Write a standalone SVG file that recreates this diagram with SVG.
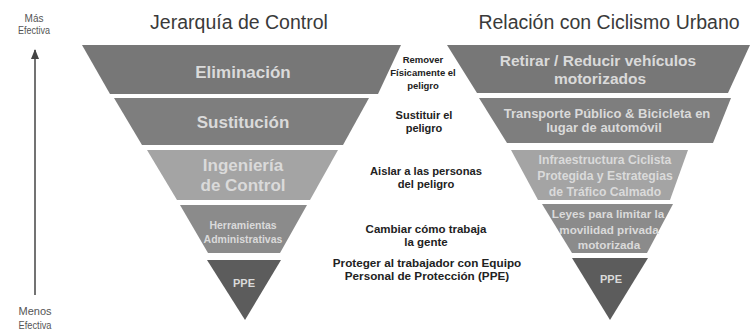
<svg xmlns="http://www.w3.org/2000/svg" width="751" height="330" viewBox="0 0 751 330">
<style>
.t{font-family:"Liberation Sans",Arial,sans-serif;fill:#3a3a3a}
.side{font-family:"Liberation Sans",Arial,sans-serif;fill:#555;text-anchor:middle}
.b{font-family:"Liberation Sans",Arial,sans-serif;font-weight:bold;fill:#dadada;text-anchor:middle}
.m{font-family:"Liberation Sans",Arial,sans-serif;font-weight:bold;fill:#222;text-anchor:middle}
.c1{fill:#777}
.c2{fill:#7e7e7e}
.c3{fill:#a4a4a4}
.c4{fill:#8b8b8b}
.c5{fill:#5c5c5c}
</style>
<defs>
<marker id="ah" markerWidth="10" markerHeight="8" refX="9" refY="4" orient="auto" markerUnits="userSpaceOnUse">
<path d="M0,0 L10,4 L0,8 Z" fill="#444"/>
</marker>
</defs>
<rect width="751" height="330" fill="#fff"/>

<text class="t" x="239" y="29" font-size="19.5" text-anchor="middle">Jerarquía de Control</text>
<text class="t" x="609" y="29" font-size="19.5" text-anchor="middle">Relación con Ciclismo Urbano</text>

<g id="axis">
<text class="side" x="34" y="22" font-size="10">Más</text>
<text class="side" x="34" y="34" font-size="10" textLength="32" lengthAdjust="spacingAndGlyphs">Efectiva</text>
<text class="side" x="35" y="315" font-size="11">Menos</text>
<text class="side" x="35" y="329" font-size="11" textLength="33" lengthAdjust="spacingAndGlyphs">Efectiva</text>
</g>

<g id="connectors">
<line x1="35" y1="295" x2="35" y2="50" stroke="#444" stroke-width="1.5" marker-end="url(#ah)"/>
</g>

<g id="left-pyramid">
<g id="l-eliminacion">
<polygon class="c1" points="82,45 401,45 378,94 110,94"/>
<text class="b" x="243" y="78" font-size="17">Eliminación</text>
</g>
<g id="l-sustitucion">
<polygon class="c2" points="114,98 369,98 343,145 142,145"/>
<text class="b" x="243" y="128" font-size="17">Sustitución</text>
</g>
<g id="l-ingenieria">
<polygon class="c3" points="147,150 338,150 310,200 177,200"/>
<text class="b" x="243" y="171" font-size="17">Ingeniería</text>
<text class="b" x="243" y="191" font-size="17">de Control</text>
</g>
<g id="l-administrativas">
<polygon class="c4" points="180,205 307,205 280,253 208,253"/>
<text class="b" x="243" y="229" font-size="10.5">Herramientas</text>
<text class="b" x="243" y="243" font-size="10.5">Administrativas</text>
</g>
<g id="l-ppe">
<polygon class="c5" points="207,260 281,260 245,320"/>
<text class="b" x="244" y="287" font-size="11">PPE</text>
</g>
</g>

<g id="middle-labels">
<g id="m1">
<text class="m" x="423" y="63" font-size="9.5">Remover</text>
<text class="m" x="423" y="76" font-size="9.5">Físicamente el</text>
<text class="m" x="423" y="89" font-size="9.5">peligro</text>
</g>
<g id="m2">
<text class="m" x="424" y="119" font-size="11">Sustituir el</text>
<text class="m" x="424" y="132" font-size="11">peligro</text>
</g>
<g id="m3">
<text class="m" x="426" y="175" font-size="11.2">Aislar a las personas</text>
<text class="m" x="426" y="188" font-size="11.2">del peligro</text>
</g>
<g id="m4">
<text class="m" x="426" y="233" font-size="11.5">Cambiar cómo trabaja</text>
<text class="m" x="426" y="246" font-size="11.5">la gente</text>
</g>
<g id="m5">
<text class="m" x="427" y="267" font-size="11.7">Proteger al trabajador con Equipo</text>
<text class="m" x="427" y="280" font-size="11.7">Personal de Protección (PPE)</text>
</g>
</g>

<g id="right-pyramid">
<g id="r-retirar">
<polygon class="c1" points="447,45 750,45 728,93 477,93"/>
<text class="b" x="598" y="66" font-size="15.5">Retirar / Reducir vehículos</text>
<text class="b" x="600" y="84" font-size="15.5">motorizados</text>
</g>
<g id="r-transporte">
<polygon class="c2" points="479,98 731,98 713,143 507,143"/>
<text class="b" x="607" y="118" font-size="13">Transporte Público &amp; Bicicleta en</text>
<text class="b" x="604" y="132" font-size="13">lugar de automóvil</text>
</g>
<g id="r-infraestructura">
<polygon class="c3" points="511,150 688,150 670,200 538,200"/>
<text class="b" x="605" y="164" font-size="12.2">Infraestructura Ciclista</text>
<text class="b" x="605" y="180" font-size="12.2">Protegida y Estrategias</text>
<text class="b" x="605" y="196" font-size="12.2">de Tráfico Calmado</text>
</g>
<g id="r-leyes">
<polygon class="c4" points="542,204 673,204 647,253 572,253"/>
<text class="b" x="608" y="218" font-size="11.7">Leyes para limitar la</text>
<text class="b" x="609" y="234" font-size="11.7">movilidad privada</text>
<text class="b" x="609" y="249" font-size="11.7">motorizada</text>
</g>
<g id="r-ppe">
<polygon class="c5" points="572,258 648,258 610,320"/>
<text class="b" x="611" y="283" font-size="11">PPE</text>
</g>
</g>
</svg>
